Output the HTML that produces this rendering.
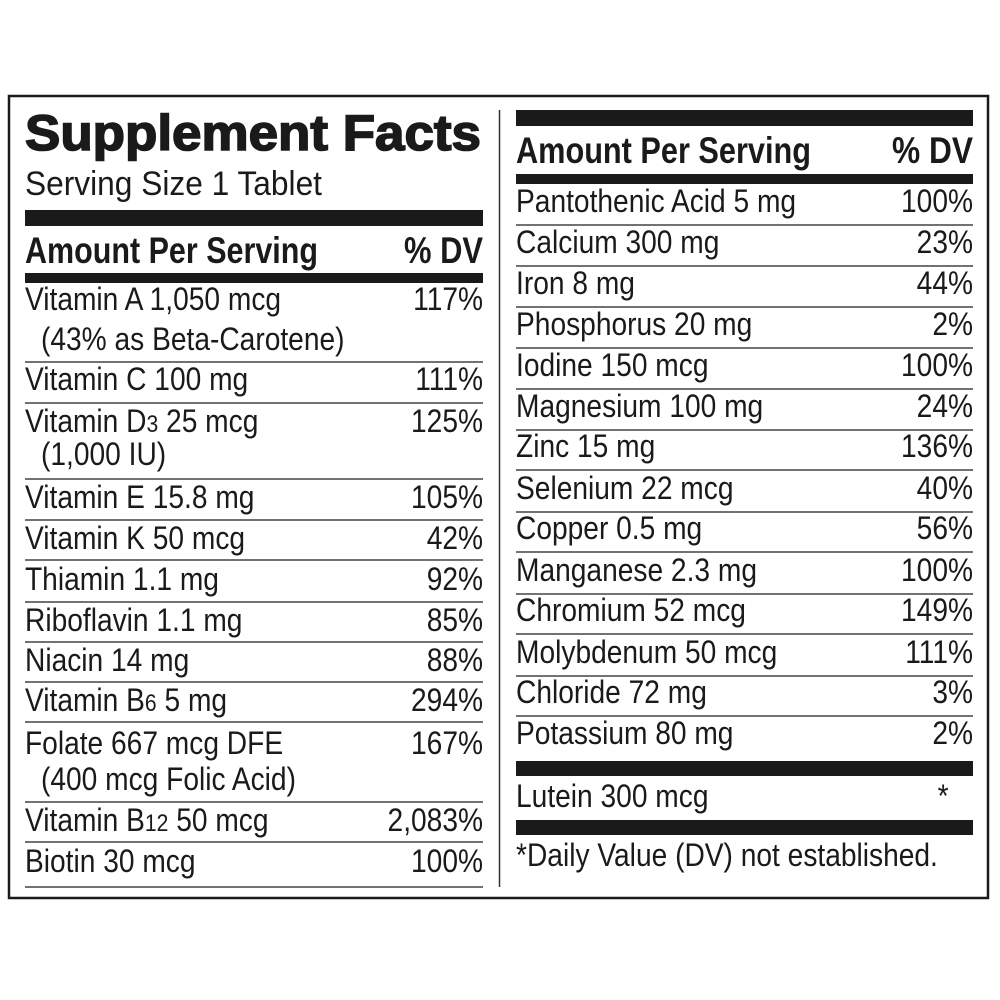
<!DOCTYPE html>
<html><head><meta charset="utf-8"><style>
html,body{margin:0;padding:0;background:#fff;}
svg{display:block;}
text{font-family:"Liberation Sans",Arial,sans-serif;fill:#1a1a1a;}
</style></head><body>
<svg width="1000" height="1000" viewBox="0 0 1000 1000" xmlns="http://www.w3.org/2000/svg">
<rect x="0" y="0" width="1000" height="1000" fill="#fff"/>
<rect x="9" y="96" width="979" height="802" fill="none" stroke="#1a1a1a" stroke-width="2.5"/>
<line x1="499.5" y1="110" x2="499.5" y2="887" stroke="#333" stroke-width="1.5"/>

<text x="25" y="150" font-size="50" font-weight="bold" stroke="#1a1a1a" stroke-width="1.6" textLength="456" lengthAdjust="spacingAndGlyphs">Supplement Facts</text>
<text x="25" y="195" font-size="34" textLength="297" lengthAdjust="spacingAndGlyphs">Serving Size 1 Tablet</text>
<rect x="25" y="210" width="458" height="16" fill="#1a1a1a"/>
<text x="25" y="263" font-size="37" font-weight="bold" textLength="293" lengthAdjust="spacingAndGlyphs">Amount Per Serving</text>
<text x="483" y="263" font-size="37" font-weight="bold" text-anchor="end" textLength="79" lengthAdjust="spacingAndGlyphs">% DV</text>
<rect x="25" y="273" width="458" height="10" fill="#1a1a1a"/>

<rect x="516" y="110" width="457" height="16" fill="#1a1a1a"/>
<text x="516" y="163" font-size="37" font-weight="bold" textLength="295" lengthAdjust="spacingAndGlyphs">Amount Per Serving</text>
<text x="973" y="163" font-size="37" font-weight="bold" text-anchor="end" textLength="81" lengthAdjust="spacingAndGlyphs">% DV</text>
<rect x="516" y="174" width="457" height="10" fill="#1a1a1a"/>

<g stroke="#444" stroke-width="1.5">
<line x1="25" x2="483" y1="362" y2="362"/>
<line x1="25" x2="483" y1="403" y2="403"/>
<line x1="25" x2="483" y1="479" y2="479"/>
<line x1="25" x2="483" y1="520" y2="520"/>
<line x1="25" x2="483" y1="560" y2="560"/>
<line x1="25" x2="483" y1="602" y2="602"/>
<line x1="25" x2="483" y1="642" y2="642"/>
<line x1="25" x2="483" y1="682" y2="682"/>
<line x1="25" x2="483" y1="722" y2="722"/>
<line x1="25" x2="483" y1="802" y2="802"/>
<line x1="25" x2="483" y1="842" y2="842"/>
<line x1="25" x2="483" y1="887" y2="887"/>
<line x1="516" x2="973" y1="225" y2="225"/>
<line x1="516" x2="973" y1="266" y2="266"/>
<line x1="516" x2="973" y1="307" y2="307"/>
<line x1="516" x2="973" y1="348" y2="348"/>
<line x1="516" x2="973" y1="389" y2="389"/>
<line x1="516" x2="973" y1="430" y2="430"/>
<line x1="516" x2="973" y1="470" y2="470"/>
<line x1="516" x2="973" y1="512" y2="512"/>
<line x1="516" x2="973" y1="552" y2="552"/>
<line x1="516" x2="973" y1="594" y2="594"/>
<line x1="516" x2="973" y1="634" y2="634"/>
<line x1="516" x2="973" y1="676" y2="676"/>
<line x1="516" x2="973" y1="716" y2="716"/>
</g>
<rect x="516" y="761" width="457" height="15" fill="#1a1a1a"/>
<rect x="516" y="820" width="457" height="15" fill="#1a1a1a"/>

<g transform="scale(0.88,1)" font-size="32">
<text x="28.4" y="310">Vitamin A 1,050 mcg</text><text x="548.9" y="310" text-anchor="end">117%</text>
<text x="46.6" y="350">(43% as Beta-Carotene)</text>
<text x="28.4" y="390">Vitamin C 100 mg</text><text x="548.9" y="390" text-anchor="end">111%</text>
<text x="28.4" y="432">Vitamin D<tspan font-size="24">3</tspan> 25 mcg</text><text x="548.9" y="432" text-anchor="end">125%</text>
<text x="46.6" y="465">(1,000 IU)</text>
<text x="28.4" y="508">Vitamin E  15.8 mg</text><text x="548.9" y="508" text-anchor="end">105%</text>
<text x="28.4" y="549">Vitamin K 50 mcg</text><text x="548.9" y="549" text-anchor="end">42%</text>
<text x="28.4" y="590">Thiamin 1.1 mg</text><text x="548.9" y="590" text-anchor="end">92%</text>
<text x="28.4" y="631">Riboflavin 1.1 mg</text><text x="548.9" y="631" text-anchor="end">85%</text>
<text x="28.4" y="671">Niacin 14 mg</text><text x="548.9" y="671" text-anchor="end">88%</text>
<text x="28.4" y="711">Vitamin B<tspan font-size="24">6</tspan> 5 mg</text><text x="548.9" y="711" text-anchor="end">294%</text>
<text x="28.4" y="754">Folate 667 mcg DFE</text><text x="548.9" y="754" text-anchor="end">167%</text>
<text x="46.6" y="790">(400 mcg Folic Acid)</text>
<text x="28.4" y="831">Vitamin B<tspan font-size="24">12</tspan> 50 mcg</text><text x="548.9" y="831" text-anchor="end">2,083%</text>
<text x="28.4" y="872">Biotin 30 mcg</text><text x="548.9" y="872" text-anchor="end">100%</text>

<text x="586.4" y="212">Pantothenic Acid 5 mg</text><text x="1105.7" y="212" text-anchor="end">100%</text>
<text x="586.4" y="253">Calcium 300 mg</text><text x="1105.7" y="253" text-anchor="end">23%</text>
<text x="586.4" y="294">Iron 8 mg</text><text x="1105.7" y="294" text-anchor="end">44%</text>
<text x="586.4" y="335">Phosphorus 20 mg</text><text x="1105.7" y="335" text-anchor="end">2%</text>
<text x="586.4" y="376">Iodine 150 mcg</text><text x="1105.7" y="376" text-anchor="end">100%</text>
<text x="586.4" y="417">Magnesium 100 mg</text><text x="1105.7" y="417" text-anchor="end">24%</text>
<text x="586.4" y="457">Zinc 15 mg</text><text x="1105.7" y="457" text-anchor="end">136%</text>
<text x="586.4" y="499">Selenium 22 mcg</text><text x="1105.7" y="499" text-anchor="end">40%</text>
<text x="586.4" y="539">Copper 0.5 mg</text><text x="1105.7" y="539" text-anchor="end">56%</text>
<text x="586.4" y="581">Manganese 2.3 mg</text><text x="1105.7" y="581" text-anchor="end">100%</text>
<text x="586.4" y="621">Chromium 52 mcg</text><text x="1105.7" y="621" text-anchor="end">149%</text>
<text x="586.4" y="663">Molybdenum 50 mcg</text><text x="1105.7" y="663" text-anchor="end">111%</text>
<text x="586.4" y="703">Chloride 72 mg</text><text x="1105.7" y="703" text-anchor="end">3%</text>
<text x="586.4" y="744">Potassium 80 mg</text><text x="1105.7" y="744" text-anchor="end">2%</text>
<text x="586.4" y="807">Lutein 300 mcg</text><text x="1078" y="807" text-anchor="end">*</text>
<text x="586.4" y="866">*Daily Value (DV) not established.</text>
</g>
</svg>
</body></html>
